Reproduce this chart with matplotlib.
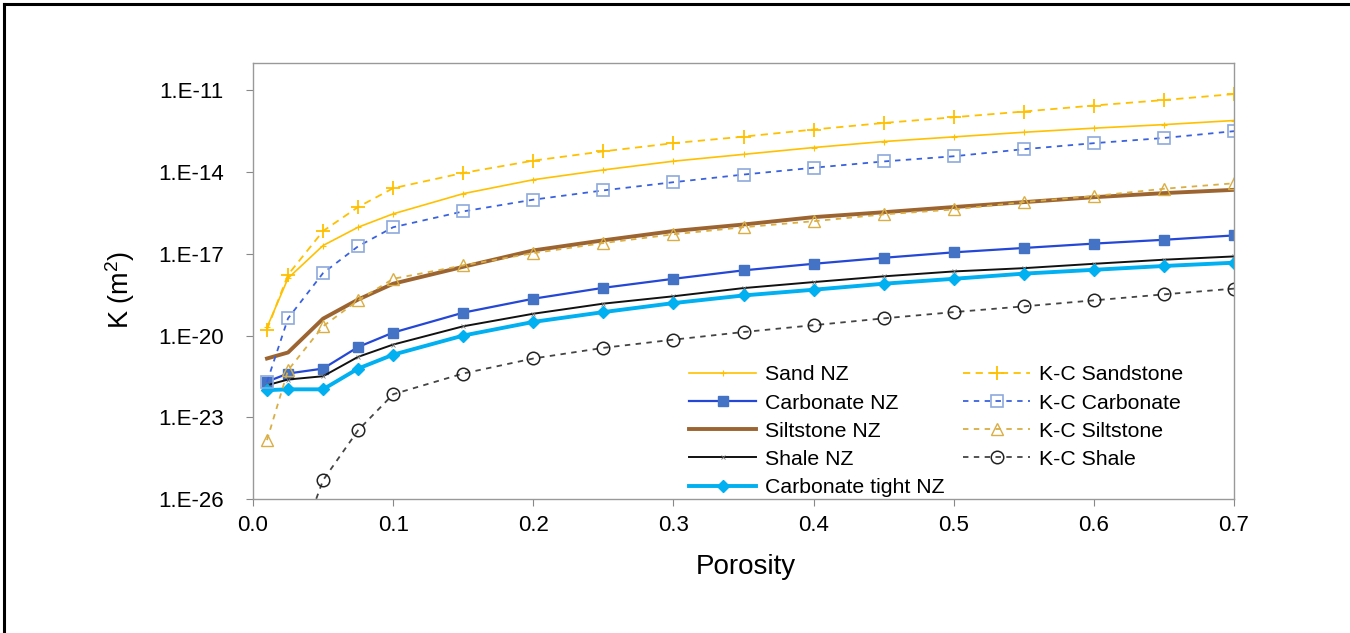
import numpy as np
import matplotlib
matplotlib.use('Agg')
import matplotlib.pyplot as plt
from matplotlib.lines import Line2D

plt.rcParams['font.family'] = ['Liberation Sans', 'DejaVu Sans']
plt.rcParams['mathtext.default'] = 'regular'

porosity = [0.01, 0.025, 0.05, 0.075, 0.1, 0.15, 0.2, 0.25, 0.3, 0.35,
            0.4, 0.45, 0.5, 0.55, 0.6, 0.65, 0.7]

# log10 of permeability K (m2)
sand_nz = [-19.70, -17.90, -16.70, -16.03, -15.54, -14.80, -14.29, -13.93, -13.61,
           -13.36, -13.11, -12.89, -12.72, -12.55, -12.40, -12.27, -12.12]
kc_sandstone = [-19.78, -17.77, -16.17, -15.29, -14.60, -14.04, -13.59, -13.25, -12.95,
                -12.71, -12.45, -12.21, -12.00, -11.79, -11.57, -11.37, -11.15]
carbonate_nz = [-21.69, -21.39, -21.21, -20.42, -19.89, -19.16, -18.65, -18.25, -17.92,
                -17.61, -17.37, -17.15, -16.95, -16.79, -16.63, -16.49, -16.33]
kc_carbonate = [-21.70, -19.37, -17.71, -16.73, -16.03, -15.45, -15.02, -14.68, -14.38,
                -14.10, -13.85, -13.62, -13.43, -13.17, -12.95, -12.76, -12.51]
siltstone_nz = [-20.84, -20.62, -19.38, -18.68, -18.10, -17.48, -16.88, -16.51, -16.17,
                -15.93, -15.66, -15.48, -15.29, -15.11, -14.93, -14.78, -14.66]
kc_siltstone = [-23.83, -21.27, -19.66, -18.71, -17.92, -17.43, -16.98, -16.61, -16.29,
                -16.03, -15.81, -15.56, -15.38, -15.11, -14.89, -14.62, -14.42]
shale_nz = [-21.82, -21.61, -21.49, -20.78, -20.33, -19.66, -19.20, -18.83, -18.56,
            -18.26, -18.04, -17.83, -17.65, -17.53, -17.37, -17.22, -17.10]
carb_tight_nz = [-22.00, -21.97, -21.97, -21.21, -20.70, -20.00, -19.50, -19.14, -18.81,
                 -18.53, -18.32, -18.10, -17.92, -17.73, -17.59, -17.45, -17.33]
kc_shale = [-34.0, -28.8, -25.30, -23.47, -22.15, -21.39, -20.84, -20.45, -20.15,
            -19.87, -19.62, -19.37, -19.14, -18.93, -18.71, -18.49, -18.28]

ytick_exp = [-26, -23, -20, -17, -14, -11]
ytick_labels = ['1.E-26', '1.E-23', '1.E-20', '1.E-17', '1.E-14', '1.E-11']
xticks = [0.0, 0.1, 0.2, 0.3, 0.4, 0.5, 0.6, 0.7]


def K(v):
    return 10.0 ** np.array(v)


fig = plt.figure(figsize=(13.5, 6.33), dpi=100)
ax = fig.add_axes([0.1874, 0.2112, 0.7267, 0.6898])

ax.plot(porosity, K(sand_nz), color='#FFC000', lw=1.2, marker='+', ms=5, mew=0.8,
        label='Sand NZ')
ax.plot(porosity, K(carbonate_nz), color='#2447D6', lw=1.6, marker='s', ms=6.5,
        mfc='#4472C4', mec='#4472C4', label='Carbonate NZ')
ax.plot(porosity, K(siltstone_nz), color='#9C6430', lw=2.8, label='Siltstone NZ')
ax.plot(porosity, K(shale_nz), color='#111111', lw=1.4, marker='x', ms=3.5, mew=0.6,
        mec='#777777', label='Shale NZ')
ax.plot(porosity, K(carb_tight_nz), color='#00B0F0', lw=2.8, marker='D', ms=6.5,
        label='Carbonate tight NZ')

ax.plot(porosity, K(kc_sandstone), color='#FFC000', lw=1.3, ls=(0, (4, 3)), marker='+',
        ms=10, mew=1.3, label='K-C Sandstone')
ax.plot(porosity, K(kc_carbonate), color='#3A62E0', lw=1.3, ls=(0, (3, 3)), marker='s',
        ms=9, mfc='none', mec='#8EA9DB', mew=1.2, label='K-C Carbonate')
ax.plot(porosity, K(kc_siltstone), color='#D9AE45', lw=1.3, ls=(0, (3, 3)), marker='^',
        ms=9, mfc='none', mec='#D9AE45', mew=1.0, label='K-C Siltstone')
ax.plot(porosity, K(kc_shale), color='#444444', lw=1.3, ls=(0, (3, 3)), marker='o',
        ms=9, mfc='none', mec='#222222', mew=1.1, label='K-C Shale')

ax.set_yscale('log')
ax.set_ylim(1e-26, 1e-10)
ax.set_xlim(0, 0.7)
ax.set_yticks([10.0 ** e for e in ytick_exp])
ax.set_yticklabels(ytick_labels)
ax.yaxis.set_minor_locator(matplotlib.ticker.NullLocator())
ax.set_xticks(xticks)
ax.set_xticklabels(['%.1f' % t for t in xticks])
ax.tick_params(labelsize=16, length=5, color='#888888', direction='out')
ax.tick_params(axis='y', pad=16)
ax.tick_params(axis='x', pad=6)

for s in ax.spines.values():
    s.set_color('#999999')
    s.set_linewidth(1.0)

ax.set_xlabel('Porosity', fontsize=20)
ax.set_ylabel('K (m$^{2}$)', fontsize=19.5)
ax.xaxis.set_label_coords(0.5026, -0.125)
ax.yaxis.set_label_coords(-0.118, 0.48)

ax.legend(ncol=2, loc='upper left', bbox_to_anchor=(0.436, 0.326), frameon=False,
          fontsize=15.3, handlelength=3.15, handletextpad=0.4, columnspacing=0.9,
          labelspacing=0.43, borderaxespad=0)

# outer frame lines (top and left)
fig.add_artist(Line2D([0.003, 1.0], [0.9937, 0.9937], color='black', lw=2.2,
                      transform=fig.transFigure))
fig.add_artist(Line2D([0.003, 0.003], [0.0, 0.9937], color='black', lw=2.2,
                      transform=fig.transFigure))

fig.savefig('out.png', dpi=100)
